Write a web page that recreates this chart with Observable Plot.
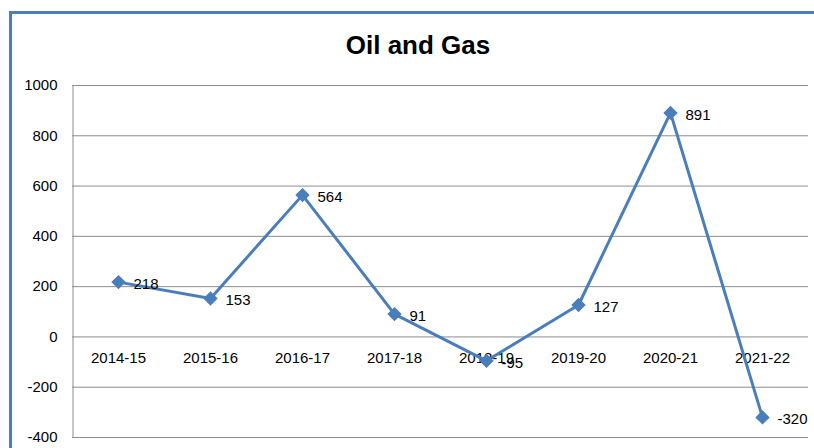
<!DOCTYPE html>
<html>
<head>
<meta charset="utf-8">
<script src="https://cdn.jsdelivr.net/npm/d3@7"></script>
<script src="https://cdn.jsdelivr.net/npm/@observablehq/plot@0.6"></script>
<style>
  html, body { margin: 0; padding: 0; background: #fff; }
  #wrap { position: relative; width: 814px; height: 448px; overflow: hidden; }
  #frame { position: absolute; left: 9px; top: 11px; width: 900px; height: 600px; border-left: 3px solid #4a7ebb; border-top: 3px solid #4a7ebb; box-sizing: border-box; }
  #title { position: absolute; left: 0; width: 836px; top: 30px; text-align: center; font: bold 26px "Liberation Sans", Arial, sans-serif; color: #000; }
  #chart { position: absolute; left: 0; top: 0; }
</style>
</head>
<body>
<div id="wrap">
  <div id="frame"></div>
  <div id="title">Oil and Gas</div>
  <div id="chart"></div>
</div>
<script>
const categories = ["2014-15", "2015-16", "2016-17", "2017-18", "2018-19", "2019-20", "2020-21", "2021-22"];
const values = [218, 153, 564, 91, -95, 127, 891, -320];
const yTicks = [-400, -200, 0, 200, 400, 600, 800, 1000];

const data = categories.map((c, i) => ({year: c, value: values[i]}));
const font = "Liberation Sans, Arial, sans-serif";

const chart = Plot.plot({
  width: 814,
  height: 448,
  marginLeft: 72,
  marginRight: 6,
  marginTop: 85,
  marginBottom: 11,
  style: {fontFamily: font, fontSize: "15px", color: "#000", background: "transparent"},
  x: {type: "point", domain: categories, padding: 0.5, axis: null},
  y: {domain: [-400, 1000], ticks: yTicks},
  marks: [
    Plot.ruleY(yTicks, {stroke: "#8c8c8c", strokeWidth: 1}),
    Plot.link([categories[0]], {x1: d => d, x2: d => d, y1: () => -400, y2: () => 1000, dx: -45.5, stroke: "#8c8c8c", strokeWidth: 1}),
    Plot.axisY({ticks: yTicks, tickSize: 0, tickPadding: 15, label: null, fontSize: 15, tickFormat: d => String(d)}),
    Plot.text(categories, {x: d => d, y: () => 0, dy: 21, fontSize: 15, fill: "#000"}),
    Plot.line(data, {x: "year", y: "value", stroke: "#4a7ebb", strokeWidth: 3}),
    Plot.dot(data, {x: "year", y: "value", symbol: "diamond2", r: 5.5, fill: "#4a7ebb", stroke: "#4a7ebb"}),
    Plot.text(data, {x: "year", y: "value", text: d => String(d.value), dx: 15, dy: 2, textAnchor: "start", fontSize: 15, fill: "#000"})
  ]
});
document.getElementById("chart").appendChild(chart);
</script>
</body>
</html>
